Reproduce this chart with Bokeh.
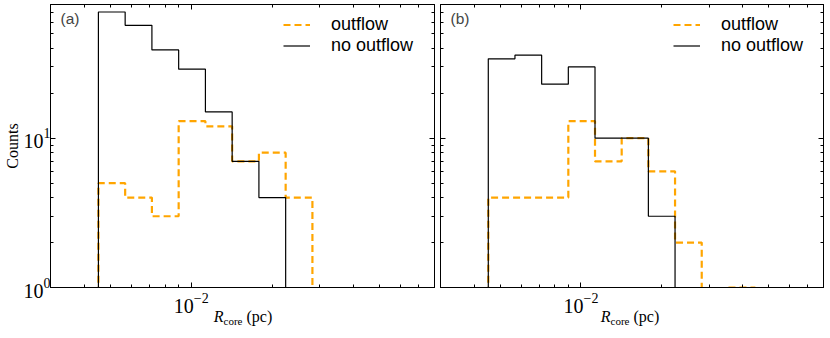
import numpy as np
from bokeh.plotting import figure
from bokeh.models import (FixedTicker, LogTickFormatter, LogAxis, Range1d, Label,
                          Legend, LegendItem, CustomJSTickFormatter, Div)
from bokeh.layouts import row, column
from bokeh.embed import file_html
from bokeh.resources import INLINE

# ---- data -------------------------------------------------------------
bin_edges = [0.004519, 0.005680, 0.007140, 0.008975, 0.011282, 0.014181,
             0.017826, 0.022407, 0.028166, 0.035405, 0.044504]
a_outflow = [5, 4, 3, 13, 12, 7, 8, 4, 0, 0]
a_no_outflow = [70, 57, 39, 29, 15, 7, 4, 0, 0, 0]
b_outflow = [4, 4, 4, 13, 7, 10, 6, 2, 0, 1]
b_no_outflow = [34, 36, 23, 30, 10, 10, 3, 0, 0, 0]
panel_labels = ["(a)", "(b)"]
x_major = [0.01]
x_minor = [0.003, 0.004, 0.005, 0.006, 0.007, 0.008, 0.009,
           0.02, 0.03, 0.04, 0.05, 0.06, 0.07, 0.08]
y_major = [1, 10]
y_minor = [2, 3, 4, 5, 6, 7, 8, 9, 20, 30, 40, 50, 60, 70]

X_RANGE = (0.003, 0.08)
Y_RANGE = (1, 78.6)
FLOOR = 0.1
ORANGE = "#FFA500"
SERIF = "Liberation Serif"
SANS = "Liberation Sans"
TICK_FS = "20px"


def outline(edges, counts):
    xs, ys = [], []
    for i, c in enumerate(counts):
        v = c if c > 0 else FLOOR
        xs += [edges[i], edges[i + 1]]
        ys += [v, v]
    xs = [edges[0]] + xs + [edges[-1]]
    ys = [FLOOR] + ys + [FLOOR]
    return xs, ys


def blank_labels(ax):
    ax.formatter = CustomJSTickFormatter(code="return ' '")
    ax.major_label_text_font_size = "1px"
    ax.major_label_standoff = 0


def ticks_in(ax):
    ax.axis_line_color = "black"
    ax.major_tick_in = 5
    ax.major_tick_out = 0
    ax.minor_tick_in = 3
    ax.minor_tick_out = 0
    ax.major_tick_line_color = "black"
    ax.minor_tick_line_color = "black"


def make_panel(outflow, no_outflow, label, first):
    p = figure(x_axis_type="log", y_axis_type="log",
               x_range=Range1d(*X_RANGE), y_range=Range1d(*Y_RANGE),
               frame_width=384 if first else 383, frame_height=283,
               min_border_left=43 if first else 3, min_border_right=0 if first else 1,
               min_border_top=0, min_border_bottom=20,
               output_backend="svg", toolbar_location=None)
    p.grid.visible = False
    p.outline_line_color = "black"
    p.outline_line_width = 1
    p.background_fill_color = "white"
    p.border_fill_color = "white"

    xa = p.xaxis[0]
    xa.ticker = FixedTicker(ticks=x_major, minor_ticks=x_minor)
    xa.formatter = LogTickFormatter()
    ticks_in(xa)
    xa.major_label_text_font = SERIF
    xa.major_label_text_font_size = TICK_FS
    xa.major_label_text_color = "black"
    xa.major_label_standoff = 5

    ya = p.yaxis[0]
    ya.ticker = FixedTicker(ticks=y_major, minor_ticks=y_minor)
    ticks_in(ya)
    if first:
        ya.formatter = LogTickFormatter()
        ya.major_label_text_font = SERIF
        ya.major_label_text_font_size = TICK_FS
        ya.major_label_text_color = "black"
        ya.major_label_standoff = 0
        ya.axis_label = "Counts"
        ya.axis_label_text_font = SERIF
        ya.axis_label_text_font_size = "16px"
        ya.axis_label_text_font_style = "normal"
        ya.axis_label_text_color = "black"
        ya.axis_label_standoff = 0
    else:
        blank_labels(ya)

    top = LogAxis(ticker=FixedTicker(ticks=x_major, minor_ticks=x_minor))
    right = LogAxis(ticker=FixedTicker(ticks=y_major, minor_ticks=y_minor))
    for ax in (top, right):
        ticks_in(ax)
        blank_labels(ax)
    p.add_layout(top, "above")
    p.add_layout(right, "right")

    xs, ys = outline(bin_edges, outflow)
    r_out = p.line(xs, ys, line_color=ORANGE, line_width=2.2, line_dash="7 4")
    xs2, ys2 = outline(bin_edges, no_outflow)
    r_no = p.line(xs2, ys2, line_color="black", line_width=1.2)

    leg = Legend(items=[LegendItem(label="outflow", renderers=[r_out]),
                        LegendItem(label="no outflow", renderers=[r_no])],
                 location=(233, 231), padding=0, margin=0, spacing=0,
                 glyph_width=27, glyph_height=19, label_height=19,
                 label_standoff=21, border_line_alpha=0,
                 background_fill_alpha=0,
                 label_text_font=SANS, label_text_font_size="18px",
                 label_text_color="black")
    p.add_layout(leg, "center")

    p.add_layout(Label(x=10, y=269, x_units="screen", y_units="screen",
                       text=label, text_font=SANS, text_font_size="15.5px",
                       text_baseline="middle", text_align="left"))
    return p


def xlabel_div(width, indent, frame_w):
    html = ("<div style='margin-left:%dpx; width:%dpx; text-align:center; "
            "font-family:\"Liberation Serif\"; font-size:16px; color:black; "
            "line-height:16px; position:relative; top:-6px; white-space:nowrap'>"
            "<i>R</i><span style='font-size:11px; position:relative; top:3px'>core</span>"
            "&nbsp;(pc)</div>") % (indent, frame_w)
    return Div(text=html, width=width, height=20, margin=(0, 0, 0, 0))


pa = make_panel(a_outflow, a_no_outflow, panel_labels[0], True)
pb = make_panel(b_outflow, b_no_outflow, panel_labels[1], False)
da = xlabel_div(430, 51, 384)
db = xlabel_div(384, 8, 384)
layout = column(row(pa, pb, spacing=0), row(da, db, spacing=0), spacing=0)

open("out.html", "w").write(file_html(layout, INLINE))
